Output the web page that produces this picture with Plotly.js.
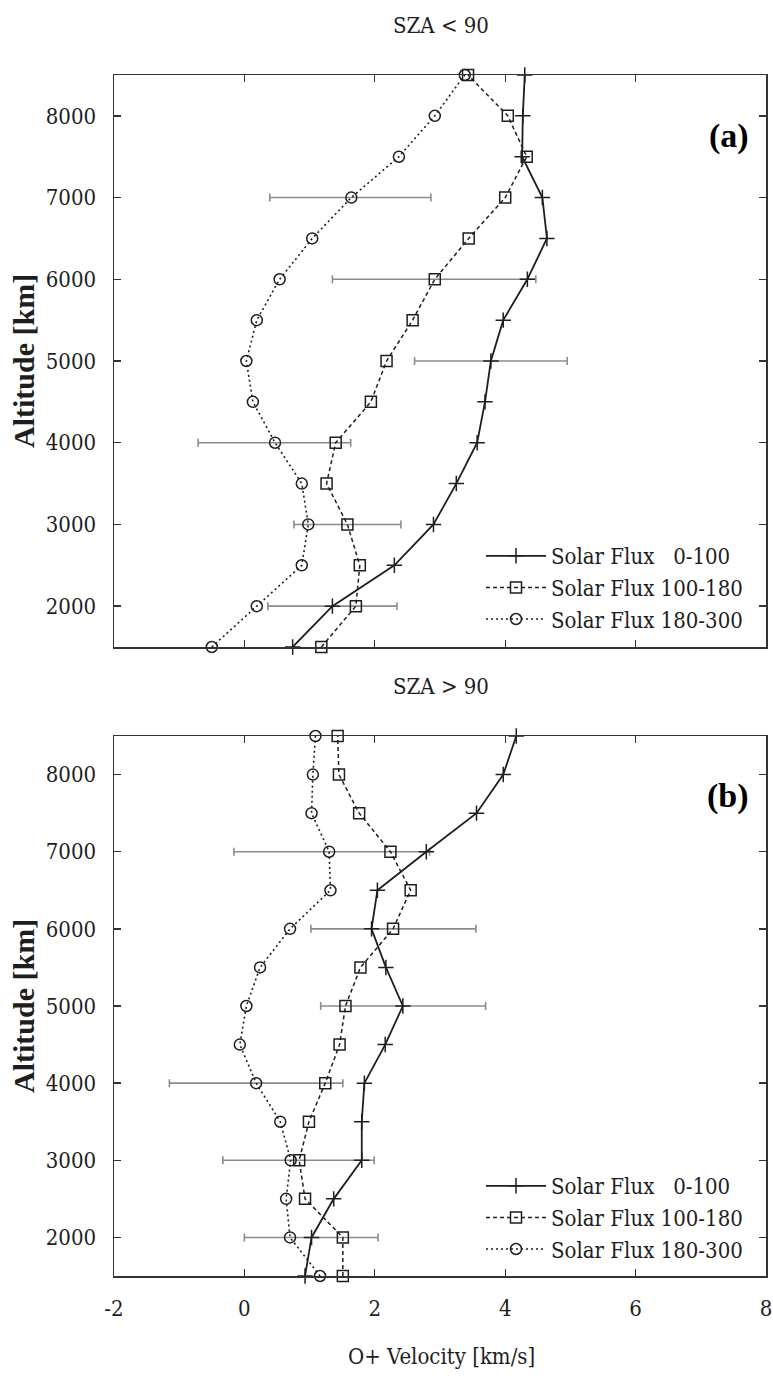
<!DOCTYPE html>
<html><head><meta charset="utf-8">
<script src="https://cdn.plot.ly/plotly-3.0.1.min.js"></script>
<style>html,body{margin:0;padding:0;background:#fff}</style>
</head><body><div id="chart" style="width:773px;height:1378px"></div>
<script>
// ---- data ----
const altitude = [1500,2000,2500,3000,3500,4000,4500,5000,5500,6000,6500,7000,7500,8000,8500];
const seriesNames = ['Solar Flux   0-100','Solar Flux 100-180','Solar Flux 180-300'];
const xTickVals = [-2,0,2,4,6,8];
const xTickLabels = ['-2','0','2','4','6','8'];
const yTickVals = [2000,3000,4000,5000,6000,7000,8000];
const yTickLabels = ['2000','3000','4000','5000','6000','7000','8000'];

// panel (a) SZA < 90
const fluxLowA  = [0.74,1.35,2.30,2.90,3.25,3.57,3.69,3.78,3.97,4.34,4.64,4.57,4.26,4.27,4.30];
const fluxMidA  = [1.18,1.71,1.77,1.58,1.26,1.40,1.94,2.18,2.58,2.92,3.44,4.00,4.33,4.04,3.43];
const fluxHighA = [-0.50,0.19,0.88,0.98,0.88,0.47,0.13,0.03,0.19,0.54,1.04,1.64,2.37,2.92,3.38];
// error bars (a): altitude, left end, right end
const errAltLowA = [2000,5000],  errMinLowA = [0.36,2.61],  errMaxLowA = [2.34,4.95];
const errAltMidA = [3000,6000],  errMinMidA = [0.76,1.35],  errMaxMidA = [2.40,4.47];
const errAltHighA = [4000,7000], errMinHighA = [-0.71,0.39], errMaxHighA = [1.63,2.86];

// panel (b) SZA > 90
const fluxLowB  = [0.93,1.03,1.37,1.80,1.80,1.84,2.16,2.43,2.17,1.95,2.04,2.79,3.56,3.97,4.17];
const fluxMidB  = [1.51,1.51,0.93,0.84,0.99,1.24,1.46,1.55,1.78,2.28,2.55,2.24,1.76,1.45,1.43];
const fluxHighB = [1.16,0.70,0.64,0.71,0.55,0.18,-0.07,0.03,0.24,0.70,1.32,1.30,1.03,1.05,1.09];
const errAltLowB = [2000,5000],  errMinLowB = [0.00,1.17],  errMaxLowB = [2.05,3.70];
const errAltMidB = [3000,6000],  errMinMidB = [-0.33,1.02], errMaxMidB = [1.99,3.55];
const errAltHighB = [4000,7000], errMinHighB = [-1.15,-0.16], errMaxHighB = [1.51,2.84];

// ---- styles ----
const FONT = 'DejaVu Serif Condensed';
const BOLD = 'Liberation Serif';
const INK = '#1e1e1e';
const styles = [
  {symbol:'cross-thin-open', size:11, dash:'solid', width:1.8},
  {symbol:'square-open', size:11, dash:'4px,3px', width:1.5},
  {symbol:'circle-open', size:11, dash:'2px,3px', width:1.6}
];

function seriesTrace(xv, k, xa, ya, leg){
  const s = styles[k];
  return {
    x: xv, y: altitude, xaxis: xa, yaxis: ya, legend: leg,
    type:'scatter', mode:'lines+markers', name: seriesNames[k],
    cliponaxis:false,
    line:{color:INK, width:s.width, dash:s.dash},
    marker:{symbol:s.symbol, size:s.size, color:INK, line:{color:INK, width:1.5}},
    hoverinfo:'x+y'
  };
}
function errTrace(xv, alts, lo, hi, xa, ya){
  const xs = alts.map(a => xv[altitude.indexOf(a)]);
  return {
    x: xs, y: alts, xaxis: xa, yaxis: ya, type:'scatter', mode:'markers',
    showlegend:false, hoverinfo:'skip', cliponaxis:false,
    marker:{size:2, opacity:0},
    error_x:{type:'data', symmetric:false,
      array: hi.map((h,i)=>h - xs[i]), arrayminus: lo.map((l,i)=>xs[i] - l),
      color:'#8c8c8c', thickness:1.6, width:4}
  };
}

const traces = [
  errTrace(fluxLowA, errAltLowA, errMinLowA, errMaxLowA, 'x', 'y'),
  errTrace(fluxMidA, errAltMidA, errMinMidA, errMaxMidA, 'x', 'y'),
  errTrace(fluxHighA, errAltHighA, errMinHighA, errMaxHighA, 'x', 'y'),
  seriesTrace(fluxLowA, 0, 'x', 'y', 'legend'),
  seriesTrace(fluxMidA, 1, 'x', 'y', 'legend'),
  seriesTrace(fluxHighA, 2, 'x', 'y', 'legend'),
  errTrace(fluxLowB, errAltLowB, errMinLowB, errMaxLowB, 'x2', 'y2'),
  errTrace(fluxMidB, errAltMidB, errMinMidB, errMaxMidB, 'x2', 'y2'),
  errTrace(fluxHighB, errAltHighB, errMinHighB, errMaxHighB, 'x2', 'y2'),
  seriesTrace(fluxLowB, 0, 'x2', 'y2', 'legend2'),
  seriesTrace(fluxMidB, 1, 'x2', 'y2', 'legend2'),
  seriesTrace(fluxHighB, 2, 'x2', 'y2', 'legend2')
];

const H = 1378;
const py = p => (H - p) / H;           // pixel row -> paper y
const W0 = 114, PW = 773 - 114 - 7;
const px = p => (p - W0) / PW;         // pixel column -> paper x

const axBase = {
  showline:true, linecolor:'#333', linewidth:1.5, mirror:'ticks',
  ticks:'inside', ticklen:7, tickwidth:1.3, tickcolor:'#333',
  showgrid:false, zeroline:false, automargin:false,
  tickfont:{family:FONT, size:22, color:INK}
};
const xBase = Object.assign({}, axBase, {range:[-2,8], tickmode:'array', tickvals:xTickVals, ticktext:xTickLabels});
const yBase = Object.assign({}, axBase, {range:[1500,8500], tickmode:'array', tickvals:yTickVals, ticktext:yTickLabels, ticklabelstandoff:12});

const legendBase = {
  xanchor:'right', yanchor:'bottom', bgcolor:'rgba(0,0,0,0)', borderwidth:0,
  font:{family:FONT, size:22, color:INK}, itemwidth:60, tracegroupgap:3, traceorder:'normal'
};

const layout = {
  width:773, height:1378,
  margin:{l:W0, r:7, t:0, b:0},
  paper_bgcolor:'#fff', plot_bgcolor:'#fff',
  showlegend:true,
  xaxis: Object.assign({}, xBase, {anchor:'y', showticklabels:false}),
  yaxis: Object.assign({}, yBase, {anchor:'x', domain:[py(647), py(75)]}),
  xaxis2: Object.assign({}, xBase, {anchor:'y2', ticklabelstandoff:12}),
  yaxis2: Object.assign({}, yBase, {anchor:'x2', domain:[py(1276), py(736)]}),
  legend: Object.assign({}, legendBase, {x:px(748), y:py(640)}),
  legend2: Object.assign({}, legendBase, {x:px(748), y:py(1270)}),
  annotations:[
    {text:'SZA &lt; 90', xref:'paper', yref:'paper', x:px(441), y:py(25), showarrow:false,
     xanchor:'center', yanchor:'middle', font:{family:FONT, size:22, color:INK}},
    {text:'SZA &gt; 90', xref:'paper', yref:'paper', x:px(441), y:py(686), showarrow:false,
     xanchor:'center', yanchor:'middle', font:{family:FONT, size:22, color:INK}},
    {text:'<b>Altitude [km]</b>', xref:'paper', yref:'paper', x:px(23), y:py(361), textangle:-90,
     showarrow:false, xanchor:'center', yanchor:'middle', font:{family:BOLD, size:30, color:INK}},
    {text:'<b>Altitude [km]</b>', xref:'paper', yref:'paper', x:px(23), y:py(1006), textangle:-90,
     showarrow:false, xanchor:'center', yanchor:'middle', font:{family:BOLD, size:30, color:INK}},
    {text:'O+ Velocity [km/s]', xref:'paper', yref:'paper', x:px(441), y:py(1356), showarrow:false,
     xanchor:'center', yanchor:'middle', font:{family:FONT, size:22, color:INK}},
    {text:'<b>(a)</b>', xref:'paper', yref:'paper', x:px(751), y:py(136), showarrow:false,
     xanchor:'right', yanchor:'middle', font:{family:BOLD, size:34, color:'#000'}},
    {text:'<b>(b)</b>', xref:'paper', yref:'paper', x:px(751), y:py(796), showarrow:false,
     xanchor:'right', yanchor:'middle', font:{family:BOLD, size:34, color:'#000'}}
  ]
};

Plotly.newPlot('chart', traces, layout, {staticPlot:true, displayModeBar:false});
</script>
</body></html>
